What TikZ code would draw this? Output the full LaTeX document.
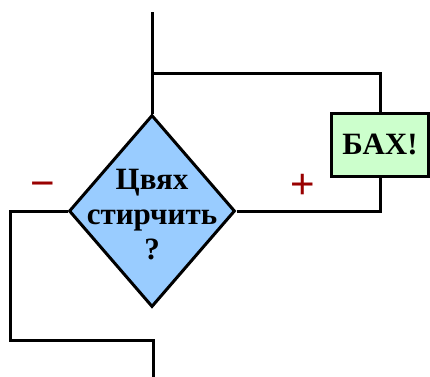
\documentclass[tikz,border=0pt]{standalone}
\usepackage{fontspec}
\setmainfont{Liberation Serif}
\newfontfamily\signfont{Liberation Sans}
\usetikzlibrary{shapes.geometric}
\definecolor{decblue}{RGB}{153,204,255}
\definecolor{actgreen}{RGB}{204,255,204}
\definecolor{signred}{RGB}{153,0,0}
\tikzset{>=stealth}

\begin{document}
\begin{tikzpicture}[x=1pt, y=-1pt, line width=3pt,
    decision/.style={diamond, draw, fill=decblue, inner sep=0pt,
      minimum width=166pt, minimum height=192pt},
    action/.style={rectangle, draw, fill=actgreen, inner sep=0pt,
      minimum width=97pt, minimum height=63pt,
      font=\fontsize{31}{36}\selectfont\bfseries},
    decisiontext/.style={align=center,
      font=\fontsize{31}{35}\selectfont\bfseries},
    sign/.style={text=signred, inner sep=0pt,
      font=\fontsize{42}{42}\selectfont\signfont}]
    \useasboundingbox (0,0) rectangle (430,376);
    % flowchart elements
    \node[decision] (nail) at (152,211) {};
    \node[decisiontext, yshift=-4pt] (nailtext) at (nail.center) {Цвях\\стирчить\\?};
    \node[action] (bang) at (380,144.5) {БАХ!};
    \node[sign] (yes) at (303,186) {+};
    \node[sign] (no) at (43,190) {−};
    % corner points
    \coordinate (in) at (152,12);
    \coordinate (loop) at (152,73);
    \coordinate (loopr) at (380,73);
    \coordinate (yesr) at (380,211);
    \coordinate (nol) at (10,211);
    \coordinate (nob) at (10,340);
    \coordinate (outt) at (153,340);
    \coordinate (out) at (153,380);
    % connectors
    \draw (in) -- (nail.north);
    \draw (loop) -- (loopr) -- (bang.north);
    \draw (bang.south) -- (yesr) -- (nail.east);
    \draw[line join=miter] (nail.west) -- (nol) -- (nob) -- (outt) -- (out);
\end{tikzpicture}
\end{document}
